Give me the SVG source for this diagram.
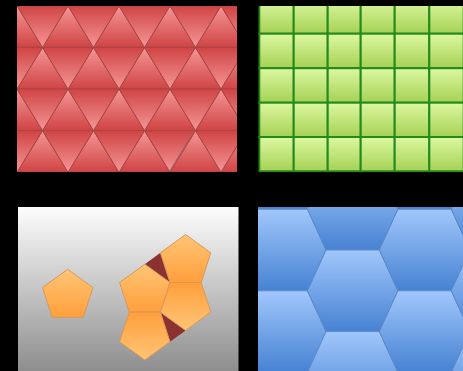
<svg xmlns="http://www.w3.org/2000/svg" xmlns:xlink="http://www.w3.org/1999/xlink" width="463" height="371" viewBox="0 0 463 371">
<style>
.up{fill:url(#gUp)}
.dn{fill:url(#gDn)}
.tri{stroke:#a94545;stroke-width:1;stroke-linejoin:round}
.sq{fill:url(#gSq);stroke:#238a1c;stroke-width:2}
.pt{fill:url(#gPent);stroke:#d9975a;stroke-width:1;stroke-linejoin:round}
.gap{fill:#8c3131}
.hx{fill:url(#gHex);stroke:#5d89c6;stroke-width:1;stroke-linejoin:round}
</style>
<defs>
<linearGradient id="gUp" x1="0" y1="0" x2="0" y2="1"><stop offset="0" stop-color="#f59696"/><stop offset="1" stop-color="#d04444"/></linearGradient>
<linearGradient id="gDn" x1="0" y1="0" x2="0" y2="1"><stop offset="0" stop-color="#d04444"/><stop offset="1" stop-color="#f59696"/></linearGradient>
<linearGradient id="gSq" x1="0" y1="0" x2="0" y2="1"><stop offset="0" stop-color="#dcf8a0"/><stop offset="1" stop-color="#a6d155"/></linearGradient>
<linearGradient id="gGray" x1="0" y1="0" x2="0" y2="1"><stop offset="0" stop-color="#fdfdfd"/><stop offset="1" stop-color="#8e8e8e"/></linearGradient>
<linearGradient id="gPent" x1="0" y1="0" x2="0" y2="1"><stop offset="0" stop-color="#ffc576"/><stop offset="1" stop-color="#ff9f3c"/></linearGradient>
<linearGradient id="gHex" x1="0" y1="0" x2="0" y2="1"><stop offset="0" stop-color="#a1c7fc"/><stop offset="1" stop-color="#4682d2"/></linearGradient>
<path id="tu" d="M-25.5,41.6 L0,0 L25.5,41.6Z"/>
<path id="td" d="M-25.5,0 L25.5,0 L0,41.6Z"/>
<path id="pent" d="M0,-26.5 L25.2,-8.19 L15.58,21.44 L-15.58,21.44 L-25.2,-8.19Z"/>
<path id="hex" d="M-45.2,0 L-26.7,-40.8 L26.7,-40.8 L45.2,0 L26.7,40.8 L-26.7,40.8Z"/>
<clipPath id="cTri"><rect x="17" y="6" width="220" height="166"/></clipPath>
<clipPath id="cSq"><rect x="258.3" y="6" width="204.7" height="166.3"/></clipPath>
<clipPath id="cHex"><rect x="258" y="207" width="205" height="164"/></clipPath>
</defs>
<rect x="0" y="0" width="463" height="371" fill="#000"/>

<g id="triangles" clip-path="url(#cTri)" class="tri">
<rect x="17" y="6" width="220" height="166" fill="#d85050"/>
<use href="#tu" class="up" x="17" y="5.8"/><use href="#tu" class="up" x="68" y="5.8"/><use href="#tu" class="up" x="119" y="5.8"/><use href="#tu" class="up" x="170" y="5.8"/><use href="#tu" class="up" x="221" y="5.8"/>
<use href="#td" class="dn" x="42.5" y="5.8"/><use href="#td" class="dn" x="93.5" y="5.8"/><use href="#td" class="dn" x="144.5" y="5.8"/><use href="#td" class="dn" x="195.5" y="5.8"/><use href="#td" class="dn" x="246.5" y="5.8"/>
<use href="#tu" class="up" x="42.5" y="47.4"/><use href="#tu" class="up" x="93.5" y="47.4"/><use href="#tu" class="up" x="144.5" y="47.4"/><use href="#tu" class="up" x="195.5" y="47.4"/><use href="#tu" class="up" x="246.5" y="47.4"/>
<use href="#td" class="dn" x="17" y="47.4"/><use href="#td" class="dn" x="68" y="47.4"/><use href="#td" class="dn" x="119" y="47.4"/><use href="#td" class="dn" x="170" y="47.4"/><use href="#td" class="dn" x="221" y="47.4"/>
<use href="#tu" class="up" x="17" y="89"/><use href="#tu" class="up" x="68" y="89"/><use href="#tu" class="up" x="119" y="89"/><use href="#tu" class="up" x="170" y="89"/><use href="#tu" class="up" x="221" y="89"/>
<use href="#td" class="dn" x="42.5" y="89"/><use href="#td" class="dn" x="93.5" y="89"/><use href="#td" class="dn" x="144.5" y="89"/><use href="#td" class="dn" x="195.5" y="89"/><use href="#td" class="dn" x="246.5" y="89"/>
<use href="#tu" class="up" x="42.5" y="130.6"/><use href="#tu" class="up" x="93.5" y="130.6"/><use href="#tu" class="up" x="144.5" y="130.6"/><use href="#tu" class="up" x="195.5" y="130.6"/><use href="#tu" class="up" x="246.5" y="130.6"/>
<use href="#td" class="dn" x="17" y="130.6"/><use href="#td" class="dn" x="68" y="130.6"/><use href="#td" class="dn" x="119" y="130.6"/><use href="#td" class="dn" x="170" y="130.6"/><use href="#td" class="dn" x="221" y="130.6"/>
<line x1="194" y1="131.5" x2="168.6" y2="172.5" stroke="#8a6464" stroke-width="1" opacity="0.8"/>
</g>

<g id="squares" clip-path="url(#cSq)">
<rect class="sq" x="259.3" y="-0.7" width="34.4" height="34.4"/><rect class="sq" x="293.7" y="-0.7" width="34" height="34.4"/><rect class="sq" x="327.7" y="-0.7" width="33" height="34.4"/><rect class="sq" x="360.7" y="-0.7" width="34" height="34.4"/><rect class="sq" x="394.7" y="-0.7" width="34.6" height="34.4"/><rect class="sq" x="429.3" y="-0.7" width="34.4" height="34.4"/>
<rect class="sq" x="259.3" y="33.7" width="34.4" height="34.5"/><rect class="sq" x="293.7" y="33.7" width="34" height="34.5"/><rect class="sq" x="327.7" y="33.7" width="33" height="34.5"/><rect class="sq" x="360.7" y="33.7" width="34" height="34.5"/><rect class="sq" x="394.7" y="33.7" width="34.6" height="34.5"/><rect class="sq" x="429.3" y="33.7" width="34.4" height="34.5"/>
<rect class="sq" x="259.3" y="68.2" width="34.4" height="34.5"/><rect class="sq" x="293.7" y="68.2" width="34" height="34.5"/><rect class="sq" x="327.7" y="68.2" width="33" height="34.5"/><rect class="sq" x="360.7" y="68.2" width="34" height="34.5"/><rect class="sq" x="394.7" y="68.2" width="34.6" height="34.5"/><rect class="sq" x="429.3" y="68.2" width="34.4" height="34.5"/>
<rect class="sq" x="259.3" y="102.7" width="34.4" height="34.3"/><rect class="sq" x="293.7" y="102.7" width="34" height="34.3"/><rect class="sq" x="327.7" y="102.7" width="33" height="34.3"/><rect class="sq" x="360.7" y="102.7" width="34" height="34.3"/><rect class="sq" x="394.7" y="102.7" width="34.6" height="34.3"/><rect class="sq" x="429.3" y="102.7" width="34.4" height="34.3"/>
<rect class="sq" x="259.3" y="137" width="34.4" height="34.3"/><rect class="sq" x="293.7" y="137" width="34" height="34.3"/><rect class="sq" x="327.7" y="137" width="33" height="34.3"/><rect class="sq" x="360.7" y="137" width="34" height="34.3"/><rect class="sq" x="394.7" y="137" width="34.6" height="34.3"/><rect class="sq" x="429.3" y="137" width="34.4" height="34.3"/>
</g>

<g id="pentagons">
<rect x="18" y="207" width="220.5" height="164" fill="url(#gGray)"/>
<use href="#pent" class="pt" transform="translate(67.7,295.8)"/>
<polygon class="gap" points="144.8,264.19 160.38,252.87 170,282.5"/>
<polygon class="gap" points="160.38,312.13 170,341.76 185.58,330.44"/>
<use href="#pent" class="pt" transform="translate(185.58,261.06)"/>
<use href="#pent" class="pt" transform="translate(144.8,290.69)"/>
<use href="#pent" class="pt" transform="translate(185.58,303.94) scale(1,-1)"/>
<use href="#pent" class="pt" transform="translate(144.8,333.57) scale(1,-1)"/>
</g>

<g id="hexagons" clip-path="url(#cHex)">
<rect x="258" y="207" width="205" height="164" fill="#7aa8e8"/>
<use href="#hex" class="hx" transform="translate(280.8,168.4)"/>
<use href="#hex" class="hx" transform="translate(280.8,250)"/>
<use href="#hex" class="hx" transform="translate(280.8,331.6)"/>
<use href="#hex" class="hx" transform="translate(352.7,209.2)"/>
<use href="#hex" class="hx" transform="translate(352.7,290.8)"/>
<use href="#hex" class="hx" transform="translate(352.7,372.4)"/>
<use href="#hex" class="hx" transform="translate(424.6,168.4)"/>
<use href="#hex" class="hx" transform="translate(424.6,250)"/>
<use href="#hex" class="hx" transform="translate(424.6,331.6)"/>
<use href="#hex" class="hx" transform="translate(496.5,209.2)"/>
<use href="#hex" class="hx" transform="translate(496.5,290.8)"/>
<use href="#hex" class="hx" transform="translate(496.5,372.4)"/>
</g>
</svg>
